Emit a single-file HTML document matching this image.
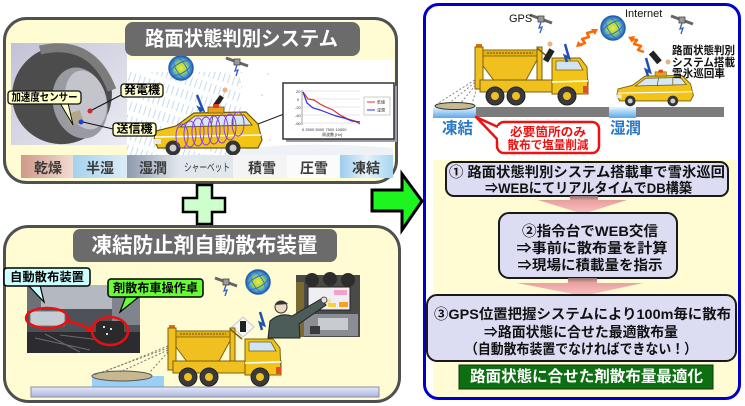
<!DOCTYPE html>
<html><head><meta charset="utf-8">
<style>
html,body{margin:0;padding:0;background:#fff;}
svg{display:block;}
text{font-family:"Liberation Sans","Noto Sans CJK JP",sans-serif;}
</style></head><body>
<svg width="745" height="406" viewBox="0 0 745 406" xmlns="http://www.w3.org/2000/svg">
<defs>
<linearGradient id="tireBg" x1="0" y1="0" x2="1" y2="1"><stop offset="0" stop-color="#c2c2d6"/><stop offset="1" stop-color="#ececf3"/></linearGradient>
<linearGradient id="dry" x1="0" x2="1"><stop offset="0" stop-color="#cf9a88"/><stop offset="1" stop-color="#f0dcd2"/></linearGradient>
<linearGradient id="semi" x1="0" x2="1"><stop offset="0" stop-color="#a6d2ee"/><stop offset="1" stop-color="#dcecf6"/></linearGradient>
<linearGradient id="wet" x1="0" x2="1"><stop offset="0" stop-color="#8e9aae"/><stop offset="1" stop-color="#e2e8ee"/></linearGradient>
<linearGradient id="froz" x1="0" x2="1"><stop offset="0" stop-color="#9ccced"/><stop offset=".5" stop-color="#e4f2fa"/><stop offset="1" stop-color="#a6d4f0"/></linearGradient>
<linearGradient id="road" x1="0" y1="0" x2="0" y2="1"><stop offset="0" stop-color="#e6eafb"/><stop offset="1" stop-color="#aab4dc"/></linearGradient>
<linearGradient id="ice" x1="0" y1="0" x2="0" y2="1"><stop offset="0" stop-color="#e4f4ff"/><stop offset="1" stop-color="#5aa8e8"/></linearGradient>
<linearGradient id="pinkArrow" x1="0" y1="0" x2="0" y2="1"><stop offset="0" stop-color="#8a7070"/><stop offset=".25" stop-color="#e8a0a0"/><stop offset="1" stop-color="#fcc4c4"/></linearGradient>
<radialGradient id="globe"><stop offset="0" stop-color="#e0f048"/><stop offset=".5" stop-color="#a8d040"/><stop offset=".72" stop-color="#50a4d8"/><stop offset="1" stop-color="#2060b0"/></radialGradient>
<pattern id="rain" width="5" height="14" patternUnits="userSpaceOnUse" patternTransform="rotate(18)"><line x1="2" y1="0" x2="2" y2="9" stroke="#bcd6ec" stroke-width="1"/></pattern>
<clipPath id="rp"><rect x="424.5" y="4.5" width="315" height="394" rx="14"/></clipPath>

<g id="car">
  <polygon points="3,28 23,23 41,10 93,9 105,21 109,37 105,45 5,45 1,37" fill="#f2c418" stroke="#6a5a10" stroke-width="1.2"/>
  <polygon points="27,24 42,13 91,12 99,22" fill="#d6e8f6" stroke="#6a5a10" stroke-width="1"/>
  <line x1="60" y1="12" x2="58" y2="24" stroke="#6a5a10"/>
  <line x1="80" y1="12" x2="80" y2="23" stroke="#6a5a10"/>
  <rect x="55" y="4" width="16" height="6" fill="#e8a020" stroke="#6a5a10" stroke-width=".8"/>
  <rect x="60" y="1" width="6" height="4" fill="#e04010"/>
  <line x1="2" y1="34" x2="108" y2="32" stroke="#fff" stroke-width="1.5"/>
  <rect x="0" y="36" width="8" height="5" fill="#e8e8e8"/>
  <circle cx="20" cy="45" r="7.5" fill="#333"/><circle cx="20" cy="45" r="3.5" fill="#ccc"/>
  <circle cx="80" cy="45" r="7.5" fill="#333"/><circle cx="80" cy="45" r="3.5" fill="#ccc"/>
</g>

<g id="truck">
  <rect x="1" y="0" width="6" height="4" fill="#e07010"/>
  <rect x="0" y="3" width="8" height="42" fill="#f0c020" stroke="#7a6010" stroke-width="1"/>
  <polygon points="8,6 62,6 62,16 50,38 20,38 8,22" fill="#f0c020" stroke="#7a6010" stroke-width="1"/>
  <rect x="8" y="6" width="54" height="6" fill="#e4b010" stroke="#7a6010" stroke-width=".8"/>
  <line x1="12" y1="9" x2="58" y2="9" stroke="#6a5010" stroke-width="1" stroke-dasharray="2,1"/>
  <rect x="62" y="3" width="5" height="33" fill="#f0c020" stroke="#7a6010" stroke-width="1"/>
  <line x1="62" y1="4" x2="74" y2="14" stroke="#7a6010" stroke-width="1.5"/>
  <rect x="5" y="36" width="108" height="12" fill="#f0c020" stroke="#7a6010" stroke-width="1"/>
  <polygon points="77,14 105,14 112,23 113,50 77,50" fill="#f2c418" stroke="#7a6010" stroke-width="1"/>
  <polygon points="81,17 103,17 108,26 81,26" fill="#cfe4f6" stroke="#7a6010" stroke-width=".8"/>
  <line x1="77" y1="38" x2="113" y2="37" stroke="#fff" stroke-width="1.5"/>
  <rect x="108" y="42" width="5" height="7" fill="#e05020"/>
  <circle cx="20" cy="52" r="9" fill="#3a3a3a" stroke="#222"/><circle cx="20" cy="52" r="4" fill="#f0c020"/>
  <circle cx="41" cy="52" r="9" fill="#3a3a3a" stroke="#222"/><circle cx="41" cy="52" r="4" fill="#f0c020"/>
  <circle cx="92" cy="52" r="9" fill="#3a3a3a" stroke="#222"/><circle cx="92" cy="52" r="4" fill="#f0c020"/>
</g>

<g id="globeG">
  <circle r="12" fill="url(#globe)" stroke="#2a5ca8" stroke-width="1.5"/>
  <ellipse rx="12" ry="5" transform="rotate(-30)" fill="none" stroke="#3070c0" stroke-width="1"/>
  <ellipse rx="5" ry="12" transform="rotate(-30)" fill="none" stroke="#3070c0" stroke-width=".8"/>
</g>

<g id="sat">
  <line x1="-11" y1="-4" x2="11" y2="4" stroke="#666" stroke-width="3"/>
  <rect x="-3" y="-3" width="6" height="6" fill="#999" stroke="#444" stroke-width=".8"/>
  <path d="M0 3 L-2 9 L1 8 L-1 14" stroke="#3060c0" stroke-width="1.3" fill="none"/>
</g>
</defs>

<rect width="745" height="406" fill="#fff"/>

<!-- ============ TOP LEFT PANEL ============ -->
<rect x="4.5" y="18.5" width="392" height="164" rx="22" fill="#fffbd3" stroke="#505050" stroke-width="3"/>
<!-- scene -->
<rect x="127" y="60" width="267" height="95" fill="#ffffff"/>
<rect x="127" y="72" width="115" height="83" fill="url(#rain)" opacity=".9"/>
<g fill="#c8c8d0">
<circle cx="268" cy="74" r=".8"/><circle cx="270" cy="140" r=".8"/><circle cx="280" cy="150" r=".8"/><circle cx="262" cy="95" r=".8"/><circle cx="360" cy="148" r=".8"/><circle cx="240" cy="82" r=".8"/>
</g>
<path d="M240 150 Q300 140 393 148 L393 155 L240 155 Z" fill="#eef2f6"/>
<use href="#globeG" transform="translate(181,68)"/>
<use href="#sat" transform="translate(237,62)"/>
<!-- antenna & phone -->
<path d="M197 95 L203 110 L199 108 L201 112" stroke="#2050b0" stroke-width="2.5" fill="none"/>
<rect x="216" y="95" width="5" height="12" fill="#222" transform="rotate(35 218 101)"/>
<circle cx="225" cy="90" r="2.5" fill="#f0b080"/>
<!-- car -->
<use href="#car" transform="translate(153,103)"/>
<g fill="none" stroke="#8a3ce8" stroke-width="1">
<ellipse cx="182" cy="136" rx="6" ry="12"/><ellipse cx="190" cy="134" rx="6" ry="13"/><ellipse cx="198" cy="132" rx="6" ry="14"/><ellipse cx="206" cy="131" rx="6" ry="14"/><ellipse cx="214" cy="130" rx="6" ry="14"/><ellipse cx="222" cy="129" rx="6" ry="14"/><ellipse cx="230" cy="127" rx="6" ry="13"/><ellipse cx="238" cy="124" rx="6" ry="12"/>
</g>
<!-- graph -->
<line x1="258" y1="124" x2="284" y2="114" stroke="#222" stroke-width="1"/>
<rect x="286" y="86" width="111" height="56" fill="#9a9ab0"/>
<rect x="283" y="83" width="111" height="56" fill="#fff" stroke="#333" stroke-width="1.5"/>
<g stroke="#ccc" stroke-width=".6">
<line x1="302" y1="91" x2="360" y2="91"/><line x1="302" y1="99" x2="360" y2="99"/><line x1="302" y1="107" x2="360" y2="107"/><line x1="302" y1="115" x2="360" y2="115"/><line x1="302" y1="123" x2="360" y2="123"/>
</g>
<line x1="302" y1="90" x2="302" y2="125" stroke="#666" stroke-width=".6"/>
<polyline points="303,92 308,99 314,100 320,104 326,107 333,110 340,115 348,119 355,121 360,124" fill="none" stroke="#e03030" stroke-width="1.2"/>
<polyline points="303,92 307,103 313,108 320,110 328,113 336,116 344,118 352,121 360,122" fill="none" stroke="#3030e0" stroke-width="1.2"/>
<rect x="364" y="97" width="26" height="18" fill="#fff" stroke="#999" stroke-width=".5"/>
<line x1="367" y1="102" x2="375" y2="102" stroke="#e03030"/><line x1="367" y1="110" x2="375" y2="110" stroke="#3030e0"/>
<g font-size="4" fill="#333">
<text x="296" y="93">20</text><text x="297" y="101">0</text><text x="295" y="109">-20</text><text x="295" y="117">-40</text><text x="295" y="125">-60</text>
<text x="302" y="131">0  2500  5000  7500 10000</text><text x="322" y="136">周波数 [Hz]</text>
<text x="377" y="103.5">乾燥</text><text x="377" y="111.5">湿潤</text>
</g>
<!-- tire image -->
<rect x="11" y="43" width="116" height="102" fill="url(#tireBg)"/>
<ellipse cx="62" cy="95" rx="50" ry="49" transform="rotate(-20 62 95)" fill="#4c4c4c"/>
<path d="M40 50 Q92 38 112 90" stroke="#7c7c7c" stroke-width="9" fill="none"/>
<ellipse cx="80" cy="103" rx="27" ry="36" transform="rotate(-15 80 103)" fill="#9a9aa2"/>
<ellipse cx="86" cy="100" rx="20" ry="30" transform="rotate(-15 86 100)" fill="#c4c4cc"/>
<rect x="68" y="112" width="14" height="12" fill="#b0a888" transform="rotate(-20 75 118)"/>
<circle cx="90" cy="111" r="2.5" fill="#e02020"/>
<circle cx="81" cy="122" r="2.5" fill="#2040e0"/>
<line x1="121" y1="95" x2="92" y2="110" stroke="#111" stroke-width="1"/>
<line x1="113" y1="129" x2="83" y2="122" stroke="#111" stroke-width="1"/>
<!-- strip -->
<rect x="21" y="155" width="52" height="23" fill="url(#dry)"/>
<rect x="73" y="155" width="54" height="23" fill="url(#semi)"/>
<rect x="127" y="155" width="53" height="23" fill="url(#wet)"/>
<rect x="180" y="155" width="53" height="23" fill="#e0e8ee"/>
<rect x="233" y="155" width="54" height="23" fill="#f4f4f4"/>
<rect x="287" y="155" width="53" height="23" fill="#fbfbfb"/>
<rect x="340" y="155" width="53" height="23" fill="url(#froz)"/>
<g font-size="14" font-weight="bold" fill="#3a3a3a" text-anchor="middle" dominant-baseline="central">
<text x="48" y="168">乾燥</text><text x="100" y="168">半湿</text><text x="153" y="168">湿潤</text>
<text x="207" y="168" font-size="11" font-weight="normal" textLength="46" lengthAdjust="spacingAndGlyphs">シャーベット</text>
<text x="262" y="168">積雪</text><text x="314" y="168">圧雪</text><text x="366" y="168">凍結</text>
</g>
<!-- labels -->
<polygon points="60,103 68,103 73,125" fill="#ffffcc" stroke="#111" stroke-width="1"/>
<rect x="8" y="91" width="73" height="13" rx="3" fill="#ffffcc" stroke="#111" stroke-width="1.3"/>
<text x="44.5" y="97.5" font-size="10.5" font-weight="bold" text-anchor="middle" dominant-baseline="central" textLength="66" lengthAdjust="spacingAndGlyphs">加速度センサー</text>
<rect x="121" y="84" width="42" height="13" rx="3" fill="#ffffcc" stroke="#111" stroke-width="1.3"/>
<text x="142" y="90.5" font-size="11.5" font-weight="bold" text-anchor="middle" dominant-baseline="central" textLength="36" lengthAdjust="spacingAndGlyphs">発電機</text>
<rect x="113" y="123" width="43" height="13" rx="3" fill="#ffffcc" stroke="#111" stroke-width="1.3"/>
<text x="134.5" y="129.5" font-size="11.5" font-weight="bold" text-anchor="middle" dominant-baseline="central" textLength="36" lengthAdjust="spacingAndGlyphs">送信機</text>
<!-- title -->
<rect x="125" y="22" width="235" height="34" rx="8" fill="#6b6b6b"/>
<text x="241.5" y="39.5" font-size="20" font-weight="bold" fill="#fff" text-anchor="middle" dominant-baseline="central" textLength="193" lengthAdjust="spacingAndGlyphs">路面状態判別システム</text>

<!-- ============ PLUS ============ -->
<polygon points="197,185 212,185 212,198 225,198 225,212 212,212 212,224 197,224 197,212 183,212 183,198 197,198" fill="#ccffcc" stroke="#000" stroke-width="2.5"/>

<!-- ============ BOTTOM LEFT PANEL ============ -->
<rect x="4.5" y="226.5" width="395" height="175" rx="24" fill="#fffbd3" stroke="#505050" stroke-width="3"/>
<rect x="73" y="229" width="264" height="33" rx="7" fill="#6b6b6b"/>
<text x="204.5" y="246" font-size="21" font-weight="bold" fill="#fff" text-anchor="middle" dominant-baseline="central" textLength="226" lengthAdjust="spacingAndGlyphs">凍結防止剤自動散布装置</text>
<!-- left photo -->
<rect x="27" y="285" width="113" height="68" fill="#4e5258"/>
<rect x="40" y="285" width="72" height="24" fill="#b4b8c0"/>
<rect x="112" y="285" width="28" height="40" fill="#80848c"/>
<rect x="27" y="285" width="14" height="26" fill="#6c7078"/>
<rect x="27" y="332" width="113" height="21" fill="#2c2c30"/>
<g stroke="#6a6a70" stroke-width="1"><line x1="35" y1="338" x2="90" y2="350"/><line x1="45" y1="334" x2="80" y2="352"/><line x1="60" y1="335" x2="100" y2="340"/></g>
<rect x="30" y="311" width="35" height="15" rx="2" fill="#c4ccd4" stroke="#707880"/>
<rect x="96" y="321" width="28" height="21" fill="#2a2a2a"/>
<g fill="#ddd"><rect x="103" y="326" width="2" height="2"/><rect x="110" y="328" width="2" height="2"/><rect x="106" y="333" width="2" height="2"/></g>
<ellipse cx="47" cy="318" rx="21" ry="10" fill="none" stroke="#e81010" stroke-width="2.5"/>
<ellipse cx="110" cy="331" rx="18" ry="14" fill="none" stroke="#e81010" stroke-width="2.5"/>
<path d="M68 321 Q80 324 90 329" stroke="#e81010" stroke-width="2.5" fill="none"/>
<polygon points="94,331 86,331 90,325" fill="#e81010"/>
<!-- labels -->
<polygon points="28,285 40,285 44,302" fill="#ccffff" stroke="#000" stroke-width="1.2"/>
<rect x="4" y="268" width="86" height="18" rx="3" fill="#ccffff" stroke="#000" stroke-width="1.5"/>
<text x="47" y="277" font-size="12" font-weight="bold" text-anchor="middle" dominant-baseline="central" textLength="74" lengthAdjust="spacingAndGlyphs">自動散布装置</text>
<polygon points="126,296 140,296 120,312" fill="#66ff33" stroke="#000" stroke-width="1.2"/>
<rect x="108" y="279" width="95" height="18" rx="3" fill="#66ff33" stroke="#000" stroke-width="1.5"/>
<text x="155.5" y="288" font-size="12" font-weight="bold" text-anchor="middle" dominant-baseline="central" textLength="85" lengthAdjust="spacingAndGlyphs">剤散布車操作卓</text>
<!-- right photo -->
<rect x="296" y="275" width="64" height="62" fill="#4a4a48"/>
<circle cx="312" cy="280" r="7" fill="#2c2c2c"/><circle cx="330" cy="279" r="7" fill="#2c2c2c"/><circle cx="348" cy="280" r="7" fill="#2c2c2c"/>
<rect x="296" y="282" width="8" height="55" fill="#7a6a30"/>
<rect x="308" y="287" width="42" height="23" fill="#eeeef4" stroke="#222" stroke-width="1"/>
<rect x="334" y="290" width="13" height="5" fill="#f4a0c8"/><rect x="322" y="299" width="9" height="4" fill="#f8e0a0"/><rect x="328" y="303" width="8" height="4" fill="#f8d040"/><rect x="339" y="302" width="9" height="5" fill="#f8a020"/>
<rect x="304" y="314" width="54" height="22" fill="#8a8e94"/>
<rect x="318" y="318" width="30" height="12" fill="#c8ccd0"/>
<rect x="310" y="326" width="10" height="8" fill="#3a3a3a"/>
<!-- man -->
<path d="M268 338 L270 321 Q280 312 292 316 L321 299 L326 305 L299 324 L300 338 Z" fill="#4c5c58" stroke="#222" stroke-width="1"/>
<circle cx="281" cy="307" r="6" fill="#eed8c0" stroke="#333" stroke-width="1"/>
<path d="M275 305 Q281 297 288 304 Z" fill="#333"/>
<circle cx="324" cy="300" r="3" fill="#e8e0d8" stroke="#333" stroke-width=".8"/>
<!-- sats, globe, phone, antenna -->
<use href="#sat" transform="translate(226,282)"/>
<use href="#globeG" transform="translate(258,282)"/>
<polygon points="243,317 254,327 243,337 232,327" fill="#f6f6f6" stroke="#c8c8c8"/>
<rect x="240" y="321" width="6" height="11" fill="#222"/>
<path d="M260 312 L264 325 L260 323 L262 330" stroke="#2050b0" stroke-width="2.5" fill="none"/>
<!-- truck & puddle -->
<rect x="92" y="376" width="72" height="11" fill="#9ad0f4"/>
<ellipse cx="122" cy="376" rx="30" ry="5" fill="#c8b890" stroke="#555" stroke-width="1"/>
<g stroke="#777" stroke-width="1" stroke-dasharray="2,2" fill="none">
<line x1="168" y1="348" x2="94" y2="375"/><line x1="168" y1="350" x2="120" y2="372"/><line x1="168" y1="352" x2="150" y2="372"/><line x1="168" y1="346" x2="104" y2="372"/>
</g>
<use href="#truck" transform="translate(168,325)"/>
<rect x="31" y="387" width="348" height="10" fill="url(#road)" stroke="#8890a8" stroke-width="1"/>

<!-- ============ GREEN ARROW ============ -->
<polygon points="372,190 402,190 402,174 422,201 402,230 402,211 372,211" fill="#1ef41e" stroke="#000" stroke-width="3" stroke-linejoin="miter"/>

<!-- ============ RIGHT PANEL ============ -->
<rect x="424.5" y="4.5" width="315" height="394" rx="14" fill="#fff"/>
<g clip-path="url(#rp)">
<rect x="433" y="160" width="310" height="245" fill="#fffbd3"/>
</g>
<!-- road -->
<rect x="433" y="107" width="291" height="10" fill="#7c7c7c"/>
<rect x="433" y="107" width="43" height="11" fill="url(#ice)"/>
<rect x="609" y="107" width="27" height="11" fill="url(#ice)"/>
<g stroke="#888" stroke-width="1" stroke-dasharray="2,2" fill="none">
<line x1="478" y1="78" x2="437" y2="104"/><line x1="478" y1="80" x2="448" y2="104"/><line x1="478" y1="82" x2="460" y2="104"/><line x1="478" y1="84" x2="472" y2="104"/>
</g>
<ellipse cx="455" cy="106" rx="20" ry="3.5" fill="#c8b890" stroke="#333" stroke-width="1"/>
<use href="#truck" transform="translate(475,44)"/>
<use href="#car" transform="translate(616,69) scale(0.71)"/>
<!-- sky items -->
<use href="#sat" transform="translate(541,19)"/>
<use href="#sat" transform="translate(682,20)"/>
<use href="#globeG" transform="translate(613,28)"/>
<text x="509" y="22" font-size="11" fill="#111">GPS</text>
<text x="625" y="17" font-size="11" fill="#111">Internet</text>
<rect x="546" y="49" width="6" height="13" fill="#222" transform="rotate(30 549 55)"/>
<path d="M565 44 L569 58 L565 56 L567 62" stroke="#2050b0" stroke-width="2.5" fill="none"/>
<circle cx="550" cy="44" r="2.5" fill="#f0b080"/>
<rect x="652" y="51" width="6" height="13" fill="#222" transform="rotate(-40 655 57)"/>
<path d="M646 58 L650 72 L646 70 L648 76" stroke="#2050b0" stroke-width="2.5" fill="none"/>
<circle cx="668" cy="62" r="2.5" fill="#f0b080"/>
<!-- orange arrows -->
<g stroke="#ff6a00" stroke-width="2.5" fill="none" stroke-linejoin="round">
<polyline points="579,45 585,43 582,39 589,37 587,33 595,31"/>
<polyline points="644,52 638,50 641,46 634,44 637,40 631,39"/>
</g>
<polygon points="576,47 583,46 578,41" fill="#ff6a00"/>
<polygon points="598,29 591,29 595,35" fill="#ff6a00"/>
<polygon points="628,37 635,36 632,43" fill="#ff6a00"/>
<g font-size="11" font-weight="bold" fill="#111" dominant-baseline="central">
<text x="672" y="51" textLength="63" lengthAdjust="spacingAndGlyphs">路面状態判別</text>
<text x="672" y="63" textLength="63" lengthAdjust="spacingAndGlyphs">システム搭載</text>
<text x="672" y="74" textLength="53" lengthAdjust="spacingAndGlyphs">雪氷巡回車</text>
</g>
<text x="442" y="129" font-size="16" font-weight="bold" fill="#2a78c8" dominant-baseline="central" textLength="31" lengthAdjust="spacingAndGlyphs">凍結</text>
<text x="610" y="129" font-size="16" font-weight="bold" fill="#2a78c8" dominant-baseline="central" textLength="31" lengthAdjust="spacingAndGlyphs">湿潤</text>
<!-- red callout -->
<rect x="497" y="122" width="102" height="31" rx="7" fill="#fff" stroke="#ee1111" stroke-width="2.5"/>
<path d="M498 127 L476 117 L498 140" fill="#fff" stroke="#ee1111" stroke-width="2.5" stroke-linejoin="round"/>
<rect x="498" y="126" width="4" height="15" fill="#fff"/>
<text x="548" y="132" font-size="12" font-weight="bold" fill="#ee1111" text-anchor="middle" dominant-baseline="central" textLength="76" lengthAdjust="spacingAndGlyphs">必要箇所のみ</text>
<text x="548" y="145" font-size="12" font-weight="bold" fill="#ee1111" text-anchor="middle" dominant-baseline="central" textLength="81" lengthAdjust="spacingAndGlyphs">散布で塩量削減</text>

<!-- flow boxes -->
<rect x="446" y="162" width="282" height="34" rx="8" fill="#dcdcf2" stroke="#1a1a1a" stroke-width="2"/>
<g font-size="14" font-weight="bold" fill="#111" text-anchor="middle" dominant-baseline="central">
<text x="587" y="172" textLength="276" lengthAdjust="spacingAndGlyphs">① 路面状態判別システム搭載車で雪氷巡回</text>
<text x="588.5" y="188" textLength="207" lengthAdjust="spacingAndGlyphs">⇒WEBにてリアルタイムでDB構築</text>
</g>
<polygon points="570,196 598,196 598,200 627,200 583,214 538,200 570,200" fill="url(#pinkArrow)"/>
<rect x="499" y="213" width="178" height="65" rx="10" fill="#dcdcf2" stroke="#1a1a1a" stroke-width="2"/>
<g font-size="14" font-weight="bold" fill="#111" text-anchor="middle" dominant-baseline="central">
<text x="590" y="231" textLength="136" lengthAdjust="spacingAndGlyphs">②指令台でWEB交信</text>
<text x="592" y="248" textLength="151" lengthAdjust="spacingAndGlyphs">⇒事前に散布量を計算</text>
<text x="590" y="265" textLength="145" lengthAdjust="spacingAndGlyphs">⇒現場に積載量を指示</text>
</g>
<polygon points="568,278 597,278 597,283 643,283 583,296 517,283 568,283" fill="url(#pinkArrow)"/>
<rect x="427" y="295" width="309" height="66" rx="10" fill="#dcdcf2" stroke="#1a1a1a" stroke-width="2"/>
<g font-size="14" font-weight="bold" fill="#111" text-anchor="middle" dominant-baseline="central">
<text x="582.5" y="314" textLength="297" lengthAdjust="spacingAndGlyphs">③GPS位置把握システムにより100m毎に散布</text>
<text x="581" y="332" textLength="194" lengthAdjust="spacingAndGlyphs">⇒路面状態に合せた最適散布量</text>
<text x="581" y="349" textLength="232" lengthAdjust="spacingAndGlyphs">（自動散布装置でなければできない！）</text>
</g>
<rect x="459" y="365" width="254" height="24" fill="#0d6e12" stroke="#0a3a0a" stroke-width="1"/>
<text x="586.5" y="377" font-size="15.5" font-weight="bold" fill="#fff" text-anchor="middle" dominant-baseline="central" textLength="233" lengthAdjust="spacingAndGlyphs">路面状態に合せた剤散布量最適化</text>

<rect x="424.5" y="4.5" width="315" height="394" rx="14" fill="none" stroke="#0000cc" stroke-width="3"/>
</svg>
</body></html>
